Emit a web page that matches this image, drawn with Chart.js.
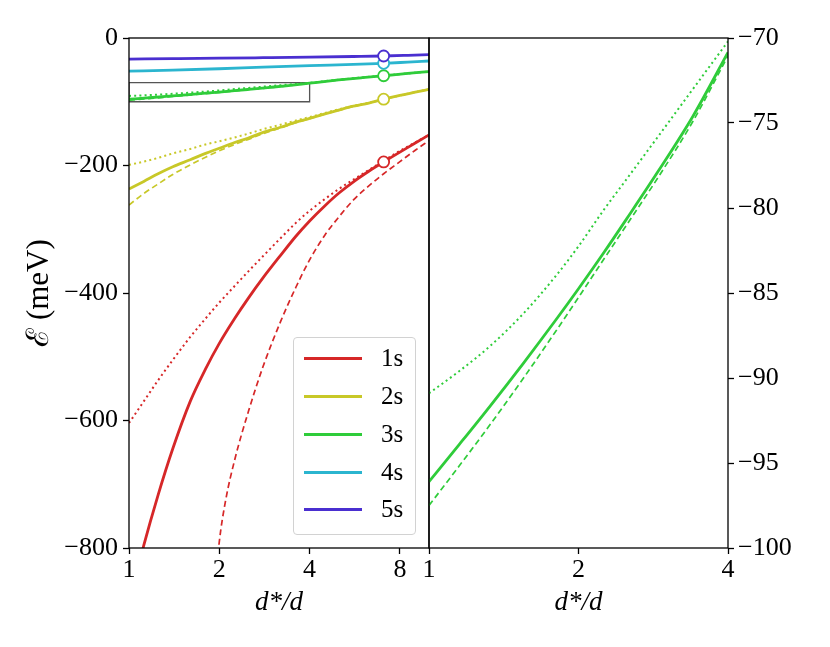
<!DOCTYPE html>
<html>
<head>
<meta charset="utf-8">
<script src="https://cdn.jsdelivr.net/npm/chart.js@4/dist/chart.umd.min.js"></script>
<style>
  body { margin: 0; background: #fff; width: 830px; height: 647px; overflow: hidden; position: relative; }
  canvas { position: absolute; top: 0; }
  #left { left: 0; }
  #right { left: 400px; }
  #legend {
    position: absolute; left: 293px; top: 337px; width: 121px; height: 196px;
    border: 1px solid #d2d2d2; border-radius: 4px; background: rgba(255,255,255,0.85);
    font-family: 'Liberation Serif', serif; font-size: 25px; color: #000; z-index: 2;
  }
  .row { position: absolute; left: 0; width: 100%; height: 30px; }
  .row .l { position: absolute; left: 10px; top: 14px; width: 58px; height: 3px; }
  .row .t { position: absolute; left: 87px; top: 0; line-height: 30px; }
</style>
</head>
<body>
<canvas id="left" width="430" height="647"></canvas>
<canvas id="right" width="430" height="647"></canvas>
<div id="legend"></div>
<script>
// d*/d sample points, left panel
const dLeft = [1, 1.12, 1.25, 1.4, 1.6, 1.8, 2, 2.25, 2.5, 2.8, 3.2, 3.6, 4, 4.5, 5, 5.6, 6.3, 7.06, 8, 9, 10];
const e1sSolid  = [-888, -796, -717, -644, -570, -519, -479, -440, -408, -376, -341, -311, -287, -263, -243.5, -225.5, -209, -194.4, -179, -164.8, -152];
const e1sDotted = [-604, -570, -537, -505, -469, -440, -415, -389, -366, -342, -314, -290, -271, -252.5, -237, -222, -207, -192.5, -177, -163.7, -152];
const e2sSolid  = [-237, -225, -213, -202, -191, -181, -173, -164, -157, -148, -140, -132, -126, -119, -113, -107, -102, -96, -90, -85, -80.5];
const e2sDotted = [-199, -194, -188, -181, -174, -167, -162, -156, -150, -143, -136, -129.5, -124, -117.5, -112, -106.5, -101.5, -96, -90, -85, -80.5];
const e2sDashed = [-262, -244, -229, -214, -199, -187, -177, -167, -159, -150, -141, -133, -126.5, -119.5, -113.5, -107.5, -102, -96.5, -90, -85, -80.5];

// 1s dashed starts below the frame
const d1Dash    = [1.8, 2, 2.1, 2.25, 2.5, 2.8, 3.2, 3.6, 4, 4.5, 5, 5.6, 6.3, 7.06, 8, 9, 10];
const e1sDashed = [-1020, -790, -725, -662, -586, -515, -445, -391, -348, -309, -281, -254, -232, -213, -194, -176, -161];

// 3s, shared by both panels
const d3 = [1, 1.15, 1.33, 1.55, 1.8, 2, 2.25, 2.5, 2.9, 3.4, 4, 5, 6, 7.06, 8.5, 10];
const e3sSolid  = [-96.1, -93.92, -91.62, -89.12, -86.59, -84.75, -82.62, -80.64, -77.8, -74.6, -70.85, -65.8, -62.2, -59.2, -55.6, -52.6];
const e3sDotted = [-90.9, -89.6, -88.1, -86.2, -84.0, -82.25, -80.1, -78.3, -75.75, -73.0, -70.2, -65.4, -61.9, -59.0, -55.5, -52.5];
const e3sDashed = [-97.5, -95.18, -92.71, -90.0, -87.25, -85.26, -83.0, -81.0, -78.15, -74.9, -71.05, -65.9, -62.3, -59.3, -55.7, -52.6];

// 4s, 5s
const d45 = [1, 1.4, 2, 2.8, 4, 5.6, 7.06, 8.5, 10];
const e4s = [-52, -50.5, -48.2, -45.7, -43.3, -41.4, -39.7, -37.8, -36.1];
const e5s = [-33, -32.4, -31.7, -30.9, -30.0, -29.0, -28.2, -27.1, -26.0];

// open circles
const markerD = 7.06;
const markerE = [-194.4, -96, -59.2, -39.7, -28.2];

const states = ['1s', '2s', '3s', '4s', '5s'];
const colors = ['#d62728', '#c8c828', '#2fcc3a', '#2bb5cf', '#4a2fd0'];

// zoomed window (right panel) and ticks
const insetD = [1, 4];
const insetE = [-100, -70];
const ticksLeftX = [1, 2, 4, 8];
const ticksRightX = [1, 2, 4];

const serif = "'Liberation Serif', 'DejaVu Serif', serif";
Chart.defaults.font.family = serif;
Chart.defaults.color = '#000';

function pts(xs, ys) {
  return xs.map((x, i) => ({ x: x, y: ys[i] })).filter(p => p.y !== null);
}
const styles = {
  solid:  { borderWidth: 2.8, borderDash: [] },
  dotted: { borderWidth: 2.0, borderDash: [2, 3.2] },
  dashed: { borderWidth: 1.7, borderDash: [6, 3.6] }
};
function curve(xs, ys, color, style) {
  return Object.assign({
    data: pts(xs, ys),
    borderColor: color,
    pointRadius: 0,
    fill: false,
    cubicInterpolationMode: 'monotone',
    order: style === 'solid' ? 2 : 3
  }, styles[style]);
}
function fmt(v) {
  return v < 0 ? '\u2212' + Math.abs(v) : String(v);
}

const frame = {
  id: 'frame',
  afterDraw(chart) {
    const { ctx, chartArea: a } = chart;
    ctx.save();
    ctx.strokeStyle = '#000';
    ctx.lineWidth = 1.3;
    ctx.strokeRect(a.left, a.top, a.right - a.left, a.bottom - a.top);
    ctx.restore();
  }
};

const tickGrid = { drawOnChartArea: false, drawTicks: true, tickLength: 6, tickWidth: 1.3, tickColor: '#000', color: '#000' };
const tickFont = { family: serif, size: 26 };

function xScale(min, max, tickVals) {
  return {
    type: 'logarithmic', min: min, max: max,
    grid: tickGrid, border: { display: false },
    afterBuildTicks: s => { s.ticks = tickVals.map(v => ({ value: v })); },
    afterFit: s => { s.height = 99; s.paddingLeft = 0; s.paddingRight = 0; },
    ticks: { font: tickFont, padding: 1, maxRotation: 0, autoSkip: false, callback: v => String(v) },
    title: { display: true, text: 'd*/d', font: { family: serif, size: 27, style: 'italic' }, padding: { top: 0, bottom: 28 } }
  };
}

// left panel
const rect = pts(
  [insetD[0], insetD[0], insetD[1], insetD[1], insetD[0]],
  [insetE[0], insetE[1], insetE[1], insetE[0], insetE[0]]
);
new Chart(document.getElementById('left'), {
  type: 'line',
  data: {
    datasets: [
      {
        data: markerE.map(e => ({ x: markerD, y: e })),
        showLine: false,
        pointRadius: 5.5,
        pointBorderWidth: 1.8,
        pointBackgroundColor: '#fff',
        pointBorderColor: colors,
        order: 0
      },
      curve(d45, e5s, colors[4], 'solid'),
      curve(d45, e4s, colors[3], 'solid'),
      curve(d3, e3sSolid, colors[2], 'solid'),
      curve(d3, e3sDotted, colors[2], 'dotted'),
      curve(d3, e3sDashed, colors[2], 'dashed'),
      curve(dLeft, e2sSolid, colors[1], 'solid'),
      curve(dLeft, e2sDotted, colors[1], 'dotted'),
      curve(dLeft, e2sDashed, colors[1], 'dashed'),
      curve(dLeft, e1sSolid, colors[0], 'solid'),
      curve(dLeft, e1sDotted, colors[0], 'dotted'),
      curve(d1Dash, e1sDashed, colors[0], 'dashed'),
      { data: rect, borderColor: '#555', borderWidth: 1.3, pointRadius: 0, tension: 0, order: 4 }
    ]
  },
  options: {
    responsive: false,
    animation: false,
    layout: { autoPadding: false, padding: { top: 38, right: 1, left: 0, bottom: 0 } },
    plugins: { legend: { display: false }, tooltip: { enabled: false } },
    scales: {
      x: xScale(1, 10, ticksLeftX),
      y: {
        type: 'linear', min: -800, max: 0,
        grid: tickGrid, border: { display: false },
        afterFit: s => { s.width = 129; s.paddingTop = 0; s.paddingBottom = 0; },
        ticks: { font: tickFont, padding: 5, stepSize: 200, callback: v => fmt(v) },
        title: { display: true, text: '\u2130 (meV)', font: { family: serif, size: 31 }, padding: { top: 21, bottom: 0 } }
      }
    }
  },
  plugins: [frame]
});

// right panel (zoom of the 3s state)
const inRange = (xs, ys) => {
  const keep = xs.map(x => x <= insetD[1]);
  return [xs.filter((x, i) => keep[i]), ys.filter((y, i) => keep[i])];
};
new Chart(document.getElementById('right'), {
  type: 'line',
  data: {
    datasets: [
      curve(...inRange(d3, e3sSolid), colors[2], 'solid'),
      curve(...inRange(d3, e3sDotted), colors[2], 'dotted'),
      curve(...inRange(d3, e3sDashed), colors[2], 'dashed')
    ]
  },
  options: {
    responsive: false,
    animation: false,
    layout: { autoPadding: false, padding: { top: 38, right: 0, left: 29, bottom: 0 } },
    plugins: { legend: { display: false }, tooltip: { enabled: false } },
    scales: {
      x: xScale(insetD[0], insetD[1], ticksRightX),
      y: {
        type: 'linear', position: 'right', min: insetE[0], max: insetE[1],
        grid: tickGrid, border: { display: false },
        afterFit: s => { s.width = 102; s.paddingTop = 0; s.paddingBottom = 0; },
        ticks: { font: tickFont, padding: 4, stepSize: 5, callback: v => fmt(v) }
      }
    }
  },
  plugins: [frame]
});

// legend
const legend = document.getElementById('legend');
const rowCenters = [20, 58, 96, 134, 171];
states.forEach((s, i) => {
  const row = document.createElement('div');
  row.className = 'row';
  row.style.top = (rowCenters[i] - 15) + 'px';
  row.innerHTML = '<span class="l" style="background:' + colors[i] + '"></span><span class="t">' + s + '</span>';
  legend.appendChild(row);
});
</script>
</body>
</html>
